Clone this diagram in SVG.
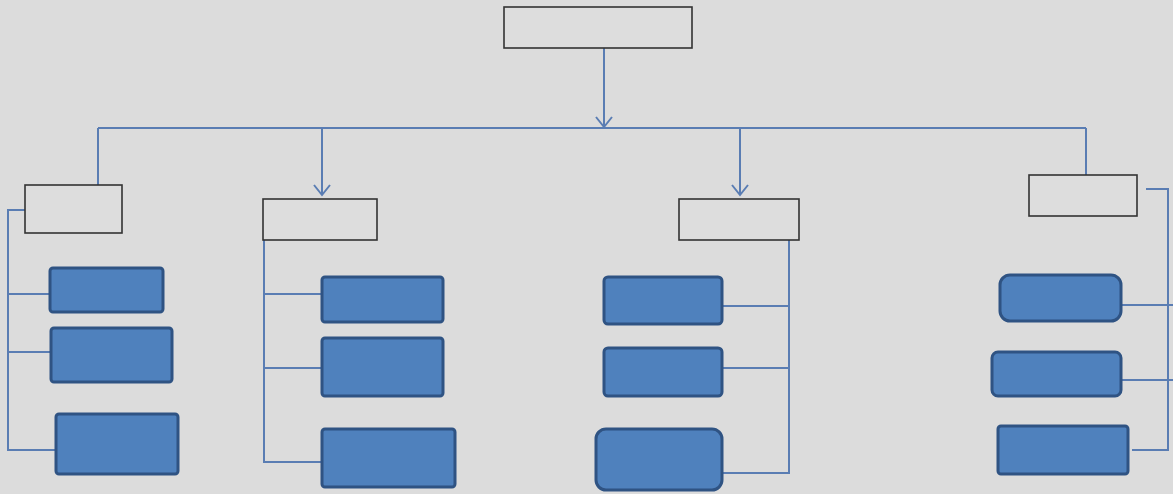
<svg xmlns="http://www.w3.org/2000/svg" width="1173" height="494" viewBox="0 0 1173 494">
<defs>
<style>
.bg{fill:#dcdcdc}
.head{fill:#dddddd;stroke:#333333;stroke-width:1.6}
.leaf{fill:#4f81bd;stroke:#2f5383;stroke-width:3}
.con{fill:none;stroke:#5a7db3;stroke-width:2}
</style>
<marker id="arr" viewBox="0 0 20 20" refX="18" refY="10" markerWidth="20" markerHeight="20" markerUnits="userSpaceOnUse" orient="auto">
<path d="M8,2 L18,10 L8,18" fill="none" stroke="#5a7db3" stroke-width="2"/>
</marker>
</defs>
<rect class="bg" x="0" y="0" width="1173" height="494"/>
<g id="connectors">
<line class="con" x1="604" y1="48" x2="604" y2="127" marker-end="url(#arr)"/>
<line class="con" x1="98" y1="128" x2="1086" y2="128"/>
<line class="con" x1="98" y1="128" x2="98" y2="185"/>
<line class="con" x1="322" y1="128" x2="322" y2="195" marker-end="url(#arr)"/>
<line class="con" x1="740" y1="128" x2="740" y2="195" marker-end="url(#arr)"/>
<line class="con" x1="1086" y1="128" x2="1086" y2="175"/>
<path class="con" d="M32,210 L8,210 L8,450 L56,450"/>
<line class="con" x1="8" y1="294" x2="50" y2="294"/>
<line class="con" x1="8" y1="352" x2="51" y2="352"/>
<path class="con" d="M264,240 L264,462 L322,462"/>
<line class="con" x1="264" y1="294" x2="322" y2="294"/>
<line class="con" x1="264" y1="368" x2="322" y2="368"/>
<path class="con" d="M789,240 L789,473 L722,473"/>
<line class="con" x1="722" y1="306" x2="789" y2="306"/>
<line class="con" x1="722" y1="368" x2="789" y2="368"/>
<path class="con" d="M1146,189 L1168,189 L1168,450 L1132,450"/>
<line class="con" x1="1122" y1="305" x2="1173" y2="305"/>
<line class="con" x1="1122" y1="380" x2="1173" y2="380"/>
</g>
<g id="root"><rect class="head" x="504" y="7" width="188" height="41"/></g>
<g id="head1"><rect class="head" x="25" y="185" width="97" height="48"/></g>
<g id="head2"><rect class="head" x="263" y="199" width="114" height="41"/></g>
<g id="head3"><rect class="head" x="679" y="199" width="120" height="41"/></g>
<g id="head4"><rect class="head" x="1029" y="175" width="108" height="41"/></g>
<g id="c1a"><rect class="leaf" x="50" y="268" width="113" height="44" rx="3"/></g>
<g id="c1b"><rect class="leaf" x="51" y="328" width="121" height="54" rx="3"/></g>
<g id="c1c"><rect class="leaf" x="56" y="414" width="122" height="60" rx="3"/></g>
<g id="c2a"><rect class="leaf" x="322" y="277" width="121" height="45" rx="3"/></g>
<g id="c2b"><rect class="leaf" x="322" y="338" width="121" height="58" rx="3"/></g>
<g id="c2c"><rect class="leaf" x="322" y="429" width="133" height="58" rx="3"/></g>
<g id="c3a"><rect class="leaf" x="604" y="277" width="118" height="47" rx="4"/></g>
<g id="c3b"><rect class="leaf" x="604" y="348" width="118" height="48" rx="4"/></g>
<g id="c3c"><rect class="leaf" x="596" y="429" width="126" height="61" rx="10"/></g>
<g id="c4a"><rect class="leaf" x="1000" y="275" width="121" height="46" rx="10"/></g>
<g id="c4b"><rect class="leaf" x="992" y="352" width="129" height="44" rx="6"/></g>
<g id="c4c"><rect class="leaf" x="998" y="426" width="130" height="48" rx="3"/></g>
</svg>
